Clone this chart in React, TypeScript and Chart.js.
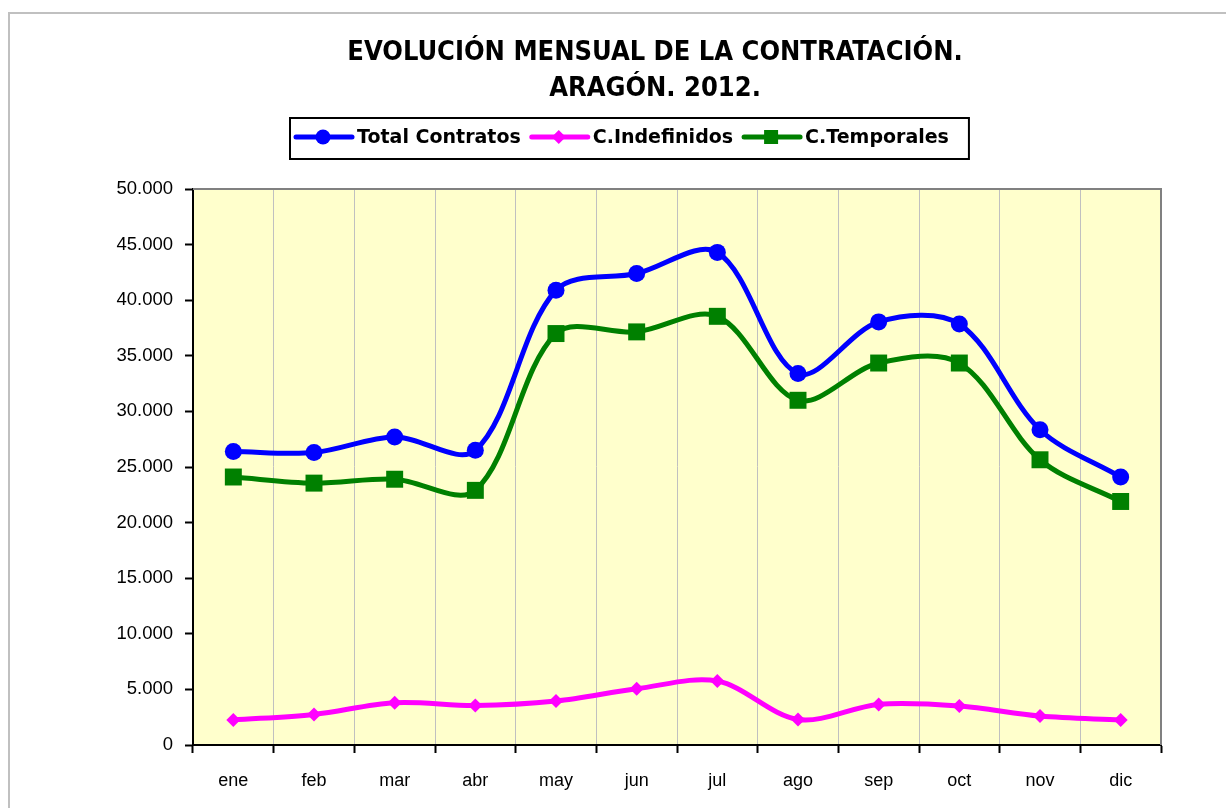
import React, { useEffect, useRef } from 'react';
import { Chart, registerables } from 'chart.js';

Chart.register(...registerables);

const months = ['ene', 'feb', 'mar', 'abr', 'may', 'jun', 'jul', 'ago', 'sep', 'oct', 'nov', 'dic'];
const totalContratos = [26400, 26300, 27700, 26500, 40900, 42400, 44300, 33400, 38050, 37850, 28350, 24100];
const indefinidos = [2250, 2750, 3800, 3550, 3950, 5050, 5750, 2300, 3650, 3500, 2600, 2250];
const temporales = [24100, 23550, 23900, 22900, 37000, 37150, 38550, 31000, 34350, 34350, 25650, 21900];
const seriesNames = ['Total Contratos', 'C.Indefinidos', 'C.Temporales'];
const titleLines = ['EVOLUCIÓN MENSUAL DE LA CONTRATACIÓN.', 'ARAGÓN. 2012.'];
const yMin = 0;
const yMax = 50000;
const yStep = 5000;

const BLUE = '#0000FF';
const PINK = '#FF00FF';
const GREEN = '#008000';

const fmt = (v: number) => String(v).replace(/\B(?=(\d{3})+(?!\d))/g, '.');

function drawMarker(ctx: CanvasRenderingContext2D, style: string, x: number, y: number, r: number, color: string) {
  ctx.fillStyle = color;
  ctx.beginPath();
  if (style === 'circle') {
    ctx.arc(x, y, r, 0, Math.PI * 2);
  } else if (style === 'rectRot') {
    ctx.moveTo(x - r, y);
    ctx.lineTo(x, y - r);
    ctx.lineTo(x + r, y);
    ctx.lineTo(x, y + r);
    ctx.closePath();
  } else {
    ctx.rect(x - r, y - r, 2 * r, 2 * r);
  }
  ctx.fill();
}

const decor = {
  id: 'decor',
  beforeDraw(chart: any) {
    const { ctx, chartArea: a, width, height } = chart;
    ctx.save();
    ctx.fillStyle = '#ffffff';
    ctx.fillRect(0, 0, width, height);
    ctx.strokeStyle = '#c0c0c0';
    ctx.lineWidth = 2;
    ctx.strokeRect(9, 13, width + 50, height + 50);
    ctx.fillStyle = '#FFFFCC';
    ctx.fillRect(a.left, a.top, a.right - a.left, a.bottom - a.top);
    ctx.restore();
  },
  beforeDatasetsDraw(chart: any) {
    const { ctx, chartArea: a } = chart;
    ctx.save();
    ctx.strokeStyle = '#808080';
    ctx.lineWidth = 2;
    ctx.beginPath();
    ctx.moveTo(a.left, a.top);
    ctx.lineTo(a.right, a.top);
    ctx.lineTo(a.right, a.bottom);
    ctx.stroke();
    ctx.restore();
  },
  afterDraw(chart: any) {
    const { ctx } = chart;
    ctx.save();
    // title
    ctx.fillStyle = '#000';
    ctx.textAlign = 'center';
    ctx.textBaseline = 'middle';
    ctx.font = "bold 27px 'DejaVu Sans Condensed', 'DejaVu Sans'";
    ctx.fillText(titleLines[0], 655, 53);
    ctx.fillText(titleLines[1], 655, 89);
    // legend
    const colors = [BLUE, PINK, GREEN];
    const styles = ['circle', 'rectRot', 'rect'];
    const radii = [7.5, 7, 7];
    ctx.font = "bold 19px 'DejaVu Sans'";
    ctx.textAlign = 'left';
    const ly = 137;
    let x = 296;
    let end = x;
    for (let i = 0; i < 3; i++) {
      ctx.strokeStyle = colors[i];
      ctx.lineWidth = 5;
      ctx.lineCap = 'round';
      ctx.beginPath();
      ctx.moveTo(x, ly);
      ctx.lineTo(x + 56, ly);
      ctx.stroke();
      drawMarker(ctx, styles[i], x + 27, ly, radii[i], colors[i]);
      ctx.fillStyle = '#000';
      const tx = x + 61;
      ctx.fillText(seriesNames[i], tx, ly + 1);
      end = tx + ctx.measureText(seriesNames[i]).width;
      x = end + 11;
    }
    ctx.strokeStyle = '#000';
    ctx.lineWidth = 2;
    ctx.strokeRect(290, 118, end + 20 - 290, 41);
    ctx.restore();
  },
};

export default function App() {
  const ref = useRef<HTMLCanvasElement>(null);
  useEffect(() => {
    if (!ref.current) return;
    Chart.defaults.font.family = "'Liberation Sans', Arial, sans-serif";
    const common = { borderWidth: 5, pointBorderWidth: 0, tension: 0.33 };
    const chart = new Chart(ref.current, {
      type: 'line',
      data: {
        labels: months,
        datasets: [
          {
            ...common,
            label: seriesNames[0],
            data: totalContratos,
            borderColor: BLUE,
            backgroundColor: BLUE,
            pointStyle: 'circle',
            pointRadius: 8.5,
            pointBackgroundColor: BLUE,
          },
          {
            ...common,
            label: seriesNames[1],
            data: indefinidos,
            borderColor: PINK,
            backgroundColor: PINK,
            pointStyle: 'rectRot',
            pointRadius: 7,
            pointBackgroundColor: PINK,
          },
          {
            ...common,
            label: seriesNames[2],
            data: temporales,
            borderColor: GREEN,
            backgroundColor: GREEN,
            pointStyle: 'rect',
            pointRadius: 12,
            pointBackgroundColor: GREEN,
          },
        ],
      },
      options: {
        responsive: false,
        animation: false,
        layout: { padding: { top: 189, right: 65, left: 0, bottom: 0 } },
        plugins: {
          legend: { display: false },
          title: { display: false },
          tooltip: { enabled: false },
        },
        scales: {
          x: {
            offset: true,
            grid: {
              offset: true,
              drawOnChartArea: true,
              color: '#c0c0c0',
              lineWidth: 1,
              tickColor: '#000',
              tickWidth: 2,
              tickLength: 8,
            },
            border: { color: '#000', width: 2 },
            ticks: { color: '#000', font: { size: 18 }, padding: 17, maxRotation: 0 },
            afterFit: (s: any) => { s.height = 63; },
          },
          y: {
            min: yMin,
            max: yMax,
            grid: {
              drawOnChartArea: false,
              tickColor: '#000',
              tickWidth: 2,
              tickLength: 8,
            },
            border: { color: '#000', width: 2 },
            ticks: {
              stepSize: yStep,
              color: '#000',
              font: { size: 18.5 },
              padding: 12,
              callback: (v: any) => fmt(Number(v)),
            },
            afterFit: (s: any) => { s.width = 193; },
          },
        },
      },
      plugins: [decor],
    });
    return () => chart.destroy();
  }, []);
  return (
    <div style={{ position: 'fixed', left: 0, top: 0, width: 1226, height: 808, overflow: 'hidden', background: '#fff' }}>
      <canvas ref={ref} width={1226} height={808} style={{ display: 'block' }} />
    </div>
  );
}
